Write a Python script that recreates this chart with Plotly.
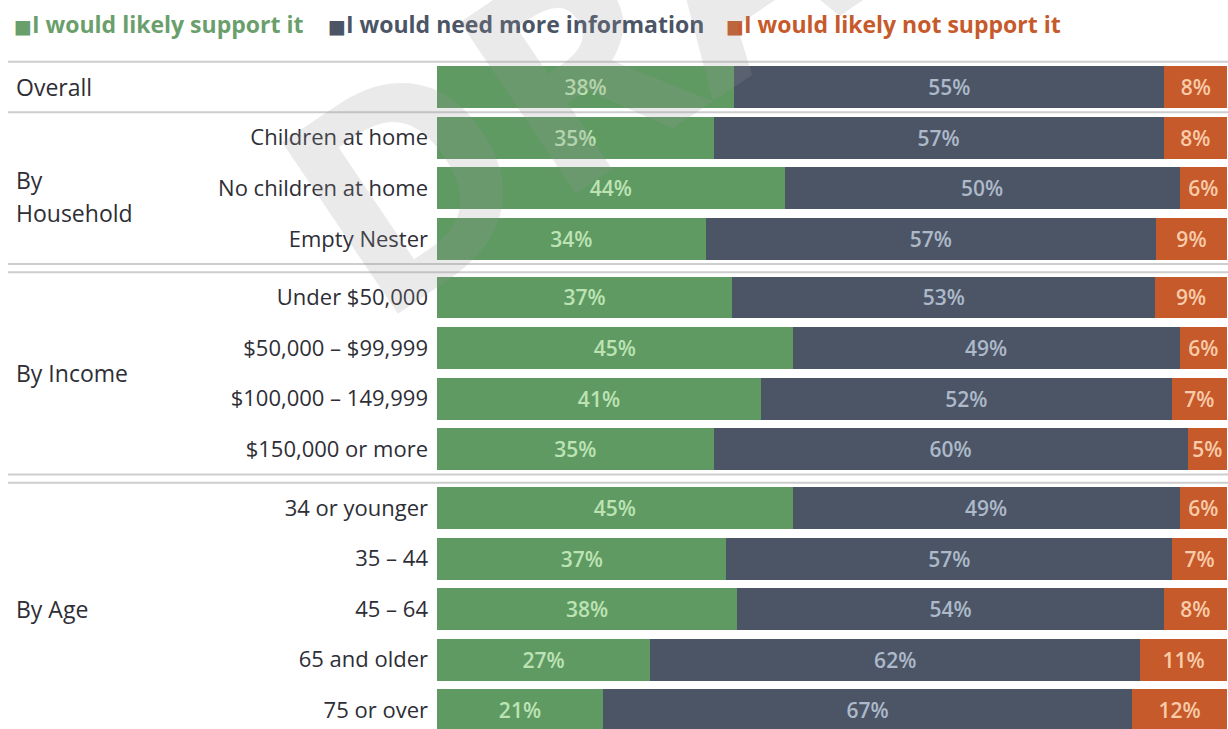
import plotly.graph_objects as go

# ---------------- data ----------------
series_names = ["I would likely support it", "I would need more information", "I would likely not support it"]
groups = ["Overall", "By Household", "By Income", "By Age"]
row_groups = ["Overall",
              "By Household", "By Household", "By Household",
              "By Income", "By Income", "By Income", "By Income",
              "By Age", "By Age", "By Age", "By Age", "By Age"]
row_labels = ["Overall",
              "Children at home", "No children at home", "Empty Nester",
              "Under $50,000", "$50,000 \u2013 $99,999", "$100,000 \u2013 149,999", "$150,000 or more",
              "34 or younger", "35 \u2013 44", "45 \u2013 64", "65 and older", "75 or over"]
support = [38, 35, 44, 34, 37, 45, 41, 35, 45, 37, 38, 27, 21]
need_info = [55, 57, 50, 57, 53, 49, 52, 60, 49, 57, 54, 62, 67]
not_support = [8, 8, 6, 9, 9, 6, 7, 5, 6, 7, 8, 11, 12]

# ---------------- styles ----------------
W, H = 1228, 729
bar_colors = ["#5f9a63", "#4b5566", "#c65a2b"]
label_colors = ["#bde3b4", "#adb9c9", "#f9cba8"]
legend_colors = ["#6a9f6c", "#4b5566", "#c65a2b"]
text_color = "#2e2e36"
FONT = "Open Sans"
PITCH_PX = 50.6          # px per row
FIRST_ROW_PX = 87        # px from top for first row center
GROUP_GAP = {"Overall": 0.0, "By Household": 0.0, "By Income": 0.16, "By Age": 0.16}
BAR_W = 0.83
PLOT_X0, PLOT_X1 = 437 / W, 1227 / W

# compute row positions from group structure
ypos = []
cur = 0.0
prev_g = None
for g in row_groups:
    if prev_g is not None:
        cur += 1.0
        if g != prev_g:
            cur += GROUP_GAP[g]
    ypos.append(cur)
    prev_g = g

y_top = -FIRST_ROW_PX / PITCH_PX
y_bottom = (H - FIRST_ROW_PX) / PITCH_PX

fig = go.Figure()
for name, vals, col, lcol in zip(series_names, [support, need_info, not_support], bar_colors, label_colors):
    fig.add_trace(go.Bar(
        name=name, y=ypos, x=vals, orientation="h",
        marker=dict(color=col, line=dict(width=0)),
        width=BAR_W,
        text=[f"{v}%" for v in vals], texttemplate="%{text}",
        textposition="inside", insidetextanchor="middle", textangle=0,
        textfont=dict(family=FONT, size=21, color=lcol, weight=600),
        hoverinfo="skip", showlegend=False,
    ))

# separator lines
shapes = []
line_style = dict(color="#cdcdcd", width=2)
shapes.append(dict(type="line", xref="paper", yref="y", x0=8 / W, x1=1, y0=ypos[0] - 0.5, y1=ypos[0] - 0.5, line=line_style))
for i in range(1, len(row_groups)):
    if row_groups[i] != row_groups[i - 1]:
        for yy in {ypos[i - 1] + 0.5, ypos[i] - 0.5}:
            shapes.append(dict(type="line", xref="paper", yref="y", x0=8 / W, x1=1, y0=yy, y1=yy, line=line_style))

annotations = []
# group labels
for g in groups:
    ys = [y for y, gg in zip(ypos, row_groups) if gg == g]
    yc = (min(ys) + max(ys)) / 2
    words = g.split(" ") if g == "By Household" else [g]
    n = len(words)
    for k, w in enumerate(words):
        annotations.append(dict(x=14 / W, xref="paper", y=yc, yref="y", text=w, showarrow=False,
                                xanchor="left", yanchor="middle", yshift=(n - 1) / 2 * 16.5 - k * 33,
                                font=dict(family=FONT, size=23, color=text_color)))

# legend (built from series names/colours)
legend_x = [12, 326, 724]
for name, col, lx in zip(series_names, legend_colors, legend_x):
    annotations.append(dict(x=lx / W, xref="paper", y=1 - 24 / H, yref="paper",
                            text=f"<span style='font-family:DejaVu Sans;font-size:19px'>\u25A0</span><b>{name}</b>",
                            showarrow=False, xanchor="left", yanchor="middle",
                            font=dict(family=FONT, size=23, color=col)))

# watermark
annotations.append(dict(x=700 / W, xref="paper", y=1 + 25 / H, yref="paper", text="<b>DRAFT</b>",
                        showarrow=False, textangle=-34, xanchor="center", yanchor="middle",
                        font=dict(family=FONT, size=290, color="rgba(150,150,150,0.2)")))

tick_text = ["" if lab == g else lab for lab, g in zip(row_labels, row_groups)]

fig.update_layout(
    width=W, height=H, barmode="stack", barnorm="percent",
    margin=dict(l=0, r=0, t=0, b=0),
    paper_bgcolor="white", plot_bgcolor="white",
    xaxis=dict(domain=[PLOT_X0, PLOT_X1], range=[0, 100], visible=False, fixedrange=True),
    yaxis=dict(range=[y_bottom, y_top], tickvals=ypos, ticktext=tick_text, showgrid=False,
               zeroline=False, showline=False, ticks="", ticklabelstandoff=8, automargin=False,
               tickfont=dict(family=FONT, size=22, color=text_color), fixedrange=True),
    shapes=shapes, annotations=annotations,
    uniformtext=dict(minsize=21, mode="show"),
)

fig.write_html("out.html", config={"displayModeBar": False},
               post_script="document.body.style.margin='0';document.body.style.overflow='hidden';")
